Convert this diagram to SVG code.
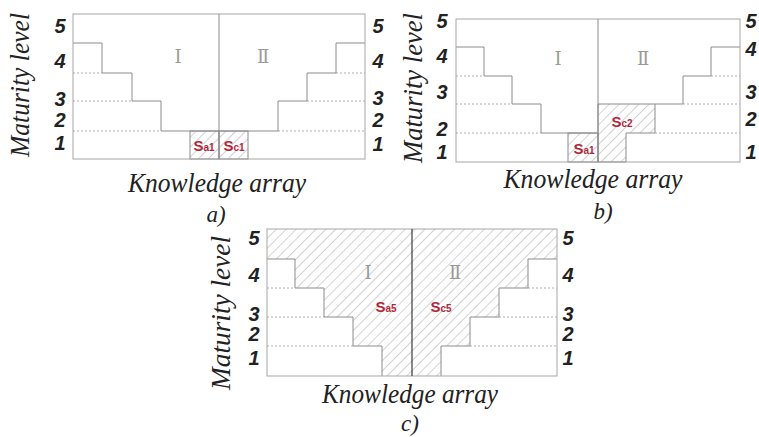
<svg xmlns="http://www.w3.org/2000/svg" width="759" height="437" viewBox="0 0 759 437">
  <defs>
    <pattern id="hatch" patternUnits="userSpaceOnUse" width="7" height="7" patternTransform="rotate(45)">
      <line x1="0" y1="0" x2="0" y2="7" stroke="#9c9c9c" stroke-width="0.9"/>
    </pattern>
  </defs>
  <style>
    .frame { fill: none; stroke: #a6a6a6; stroke-width: 1; }
    .step { fill: none; stroke: #8c8c8c; stroke-width: 1; }
    .dot { stroke: #9a9a9a; stroke-width: 0.8; stroke-dasharray: 2 2; }
    .mid { stroke: #8c8c8c; stroke-width: 1; }
    .hatch { fill: url(#hatch); stroke: #8c8c8c; stroke-width: 1; }
    .num { font-family: "Liberation Sans", Arial, sans-serif; font-size: 20px; font-style: italic; font-weight: bold; fill: #222; text-anchor: middle; }
    .axis { font-family: "Liberation Serif", "Times New Roman", serif; font-size: 27px; font-style: italic; fill: #222; text-anchor: middle; }
    .cap { font-family: "Liberation Serif", "Times New Roman", serif; font-size: 23px; font-style: italic; fill: #222; text-anchor: middle; }
    .roman { font-family: "DejaVu Serif", "Liberation Serif", serif; font-size: 18px; fill: #9a9a9a; text-anchor: middle; }
    .s { font-family: "Liberation Sans", Arial, sans-serif; font-size: 15px; font-weight: bold; fill: #b0283a; text-anchor: middle; }
    .sub { font-size: 10px; }
  </style>

  <!-- panel a -->
  <g id="panel-a">
    <rect class="hatch" x="190" y="131" width="29" height="28"/>
    <rect class="hatch" x="219" y="131" width="29" height="28"/>
    <line class="dot" x1="73" y1="73" x2="102" y2="73"/>
    <line class="dot" x1="73" y1="101" x2="132" y2="101"/>
    <line class="dot" x1="73" y1="131" x2="161" y2="131"/>
    <line class="dot" x1="336" y1="73" x2="365" y2="73"/>
    <line class="dot" x1="307" y1="101" x2="365" y2="101"/>
    <line class="dot" x1="278" y1="131" x2="365" y2="131"/>
    <polyline class="step" points="73,43 102,43 102,73 132,73 132,101 161,101 161,131 219,131"/>
    <polyline class="step" points="365,43 336,43 336,73 307,73 307,101 278,101 278,131 219,131"/>
    <rect class="frame" x="73" y="14" width="292" height="145"/>
    <line class="mid" x1="219" y1="14" x2="219" y2="159"/>
    <text class="roman" x="178" y="63">Ⅰ</text>
    <text class="roman" x="263" y="63">Ⅱ</text>
    <text class="s" x="204" y="151">S<tspan class="sub">a1</tspan></text>
    <text class="s" x="234" y="151">S<tspan class="sub">c1</tspan></text>
    <text class="num" x="60" y="33">5</text>
    <text class="num" x="60" y="68">4</text>
    <text class="num" x="60" y="106">3</text>
    <text class="num" x="60" y="127">2</text>
    <text class="num" x="60" y="150">1</text>
    <text class="num" x="378" y="33">5</text>
    <text class="num" x="378" y="68">4</text>
    <text class="num" x="378" y="105">3</text>
    <text class="num" x="378" y="127">2</text>
    <text class="num" x="378" y="151">1</text>
    <text class="axis" transform="translate(29,85) rotate(-90)" textLength="144" lengthAdjust="spacingAndGlyphs">Maturity level</text>
    <text class="axis" x="217" y="192" textLength="178" lengthAdjust="spacingAndGlyphs">Knowledge array</text>
    <text class="cap" x="216" y="222">a)</text>
  </g>

  <!-- panel b -->
  <g id="panel-b">
    <rect class="hatch" x="568" y="133" width="30" height="29"/>
    <polygon class="hatch" points="598,104 655,104 655,133 626,133 626,162 598,162"/>
    <line class="dot" x1="456" y1="76" x2="484" y2="76"/>
    <line class="dot" x1="456" y1="104" x2="512" y2="104"/>
    <line class="dot" x1="456" y1="133" x2="541" y2="133"/>
    <line class="dot" x1="711" y1="76" x2="740" y2="76"/>
    <line class="dot" x1="683" y1="104" x2="740" y2="104"/>
    <line class="dot" x1="655" y1="133" x2="740" y2="133"/>
    <polyline class="step" points="456,47 484,47 484,76 512,76 512,104 541,104 541,133 598,133"/>
    <polyline class="step" points="740,47 711,47 711,76 683,76 683,104 655,104"/>
    <rect class="frame" x="456" y="19" width="284" height="143"/>
    <line class="mid" x1="598" y1="19" x2="598" y2="162"/>
    <text class="roman" x="558" y="65">Ⅰ</text>
    <text class="roman" x="643" y="65">Ⅱ</text>
    <text class="s" x="584" y="154">S<tspan class="sub">a1</tspan></text>
    <text class="s" x="622" y="127">S<tspan class="sub">c2</tspan></text>
    <text class="num" x="442" y="28">5</text>
    <text class="num" x="442" y="63">4</text>
    <text class="num" x="442" y="99">3</text>
    <text class="num" x="442" y="136">2</text>
    <text class="num" x="442" y="159">1</text>
    <text class="num" x="751" y="28">5</text>
    <text class="num" x="751" y="56">4</text>
    <text class="num" x="751" y="99">3</text>
    <text class="num" x="751" y="126">2</text>
    <text class="num" x="751" y="159">1</text>
    <text class="axis" transform="translate(422,88) rotate(-90)" textLength="150" lengthAdjust="spacingAndGlyphs">Maturity level</text>
    <text class="axis" x="593" y="188" textLength="179" lengthAdjust="spacingAndGlyphs">Knowledge array</text>
    <text class="cap" x="603" y="219">b)</text>
  </g>

  <!-- panel c -->
  <g id="panel-c">
    <polygon fill="url(#hatch)" stroke="none" points="267,229 557,229 557,259 528,259 528,288 499,288 499,317 470,317 470,346 441,346 441,376 382,376 382,346 353,346 353,317 324,317 324,288 295,288 295,259 267,259"/>
    <line class="dot" x1="267" y1="288" x2="295" y2="288"/>
    <line class="dot" x1="267" y1="317" x2="324" y2="317"/>
    <line class="dot" x1="267" y1="346" x2="353" y2="346"/>
    <line class="dot" x1="528" y1="288" x2="557" y2="288"/>
    <line class="dot" x1="499" y1="317" x2="557" y2="317"/>
    <line class="dot" x1="470" y1="346" x2="557" y2="346"/>
    <polyline class="step" points="267,259 295,259 295,288 324,288 324,317 353,317 353,346 382,346 382,376"/>
    <polyline class="step" points="557,259 528,259 528,288 499,288 499,317 470,317 470,346 441,346 441,376"/>
    <rect class="frame" x="267" y="229" width="290" height="147"/>
    <line x1="412" y1="229" x2="412" y2="376" stroke="#3a3a3a" stroke-width="1.2"/>
    <text class="roman" x="368" y="279">Ⅰ</text>
    <text class="roman" x="455" y="279">Ⅱ</text>
    <text class="s" x="386" y="312">S<tspan class="sub">a5</tspan></text>
    <text class="s" x="441" y="312">S<tspan class="sub">c5</tspan></text>
    <text class="num" x="254" y="245">5</text>
    <text class="num" x="254" y="282">4</text>
    <text class="num" x="254" y="321">3</text>
    <text class="num" x="254" y="341">2</text>
    <text class="num" x="254" y="365">1</text>
    <text class="num" x="568" y="245">5</text>
    <text class="num" x="568" y="282">4</text>
    <text class="num" x="568" y="321">3</text>
    <text class="num" x="568" y="341">2</text>
    <text class="num" x="568" y="365">1</text>
    <text class="axis" transform="translate(230,313) rotate(-90)" textLength="154" lengthAdjust="spacingAndGlyphs">Maturity level</text>
    <text class="axis" x="410" y="403" textLength="176" lengthAdjust="spacingAndGlyphs">Knowledge array</text>
    <text class="cap" x="410" y="431">c)</text>
  </g>
</svg>
